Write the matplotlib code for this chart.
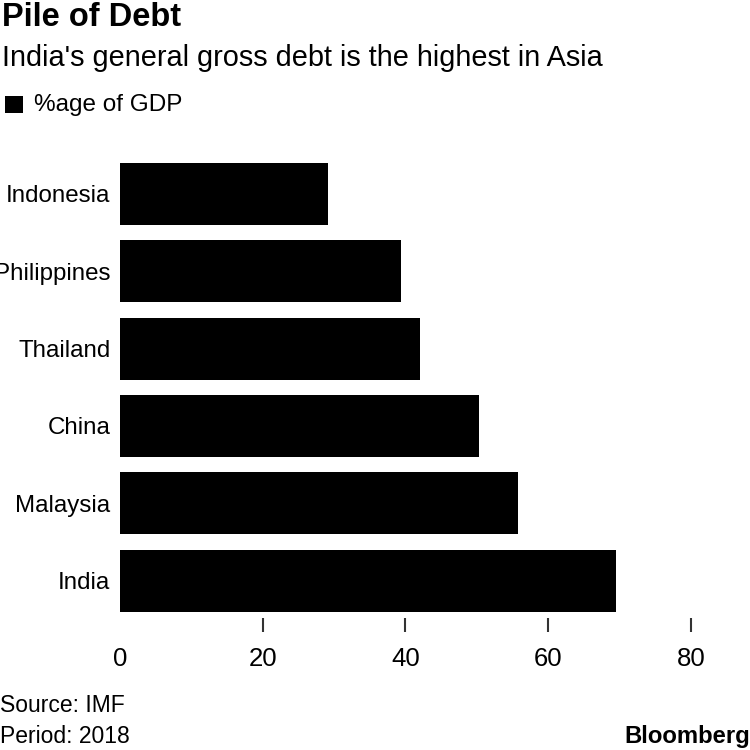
import matplotlib
matplotlib.use("Agg")
import matplotlib.pyplot as plt
from matplotlib.patches import Rectangle

plt.rcParams['font.family'] = ['Liberation Sans', 'DejaVu Sans']

countries = ["India", "Malaysia", "China", "Thailand", "Philippines", "Indonesia"]
debt_pct = [69.5, 55.8, 50.3, 42.0, 39.4, 29.1]
xticks = [0, 20, 40, 60, 80]

fig = plt.figure(figsize=(7.5, 7.5), dpi=100)
ax = fig.add_axes([0.16, 0.176, 0.7613, 0.6173])

ax.barh(range(len(countries)), debt_pct, height=0.8, color="black")
ax.set_xlim(0, 80)
ax.set_ylim(-0.48, 5.5)

for s in ax.spines.values():
    s.set_visible(False)

ax.set_yticks(range(len(countries)))
ax.set_yticklabels(countries, fontsize=17.4)
ax.tick_params(axis="y", length=0, pad=7)

ax.set_xticks(xticks)
ax.set_xticklabels([str(t) for t in xticks], fontsize=18.5)
ax.tick_params(axis="x", length=10, width=1.5, color="#333333", pad=11, direction="out")
# no tick mark at zero
ax.xaxis.get_major_ticks()[0].tick1line.set_visible(False)

fig.text(0.003, 0.976, "Pile of Debt", fontsize=23.5, fontweight="bold", va="center", ha="left")
fig.text(0.003, 0.922, "India's general gross debt is the highest in Asia", fontsize=20.8, va="center", ha="left")

fig.patches.append(Rectangle((0.007, 0.849), 0.023, 0.023, transform=fig.transFigure,
                             facecolor="black", edgecolor="none"))
fig.text(0.045, 0.86, "%age of GDP", fontsize=17.5, va="center", ha="left")

fig.text(0.0, 0.06, "Source: IMF", fontsize=16.5, va="center", ha="left")
fig.text(0.0, 0.018, "Period: 2018", fontsize=16.5, va="center", ha="left")
fig.text(0.833, 0.018, "Bloomberg", fontsize=17.2, fontweight="bold", va="center", ha="left")

fig.savefig("out.png", dpi=100)
